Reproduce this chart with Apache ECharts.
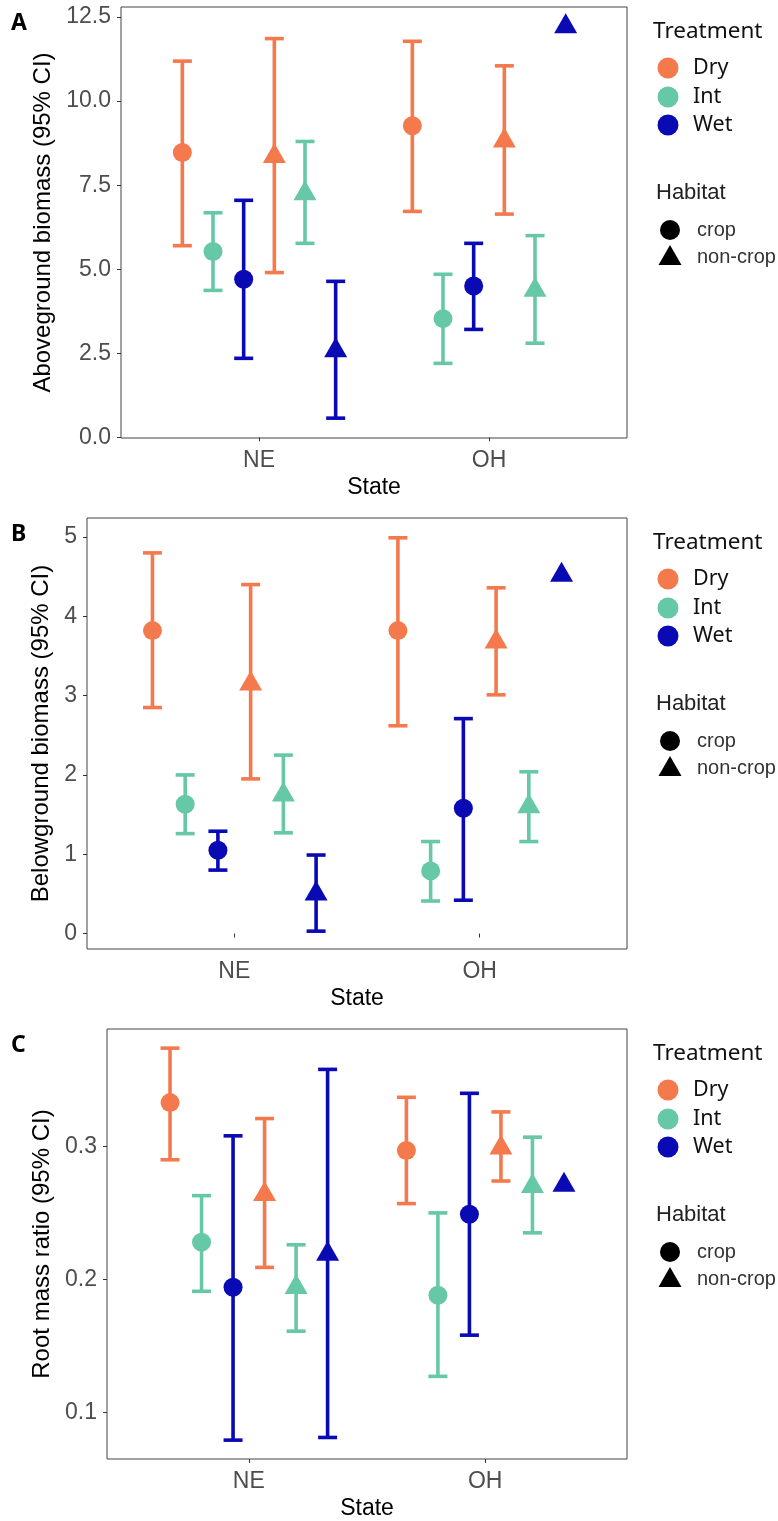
<!DOCTYPE html>
<html><head><meta charset="utf-8">
<script src="https://cdn.jsdelivr.net/npm/echarts@6/dist/echarts.min.js"></script>
<style>html,body{margin:0;padding:0;background:#fff}#c{width:778px;height:1521px}</style>
</head><body><div id="c"></div>
<script>
// ---------- data ----------
const states = ['NE', 'OH'];
const treatments = ['Dry', 'Int', 'Wet'];
const habitats = ['crop', 'non-crop'];
// order within each state: crop Dry, crop Int, crop Wet, non-crop Dry, non-crop Int, non-crop Wet
const aboveMean = [8.47, 5.53, 4.70, 8.36, 7.25, 2.58,   9.27, 3.53, 4.50, 8.82, 4.38, 12.22];
const aboveLow  = [5.70, 4.37, 2.35, 4.90, 5.77, 0.57,   6.72, 2.20, 3.21, 6.64, 2.80, null];
const aboveHigh = [11.19, 6.68, 7.05, 11.86, 8.80, 4.64, 11.78, 4.85, 5.77, 11.05, 6.00, null];
const aboveTicks = [0, 2.5, 5, 7.5, 10, 12.5];

const belowMean = [3.82, 1.63, 1.05, 3.15, 1.75, 0.50,   3.82, 0.79, 1.58, 3.68, 1.60, 4.52];
const belowLow  = [2.85, 1.26, 0.80, 1.95, 1.27, 0.03,   2.62, 0.41, 0.42, 3.01, 1.16, null];
const belowHigh = [4.80, 2.00, 1.29, 4.40, 2.25, 0.99,   4.99, 1.16, 2.71, 4.36, 2.04, null];
const belowTicks = [0, 1, 2, 3, 4, 5];

const rmrMean = [0.333, 0.228, 0.194, 0.264, 0.194, 0.219,   0.297, 0.188, 0.249, 0.299, 0.270, 0.271];
const rmrLow  = [0.290, 0.191, 0.079, 0.209, 0.161, 0.081,   0.257, 0.127, 0.158, 0.274, 0.235, null];
const rmrHigh = [0.374, 0.263, 0.308, 0.321, 0.226, 0.358,   0.337, 0.250, 0.340, 0.326, 0.307, null];
const rmrTicks = [0.1, 0.2, 0.3];

const treatmentColors = ['#F47A4E', '#66C8A7', '#0A0AB4'];

// ---------- layout ----------
const panels = [
  {label: 'A', mean: aboveMean, low: aboveLow, high: aboveHigh, ticks: aboveTicks, dec: 1,
   yName: 'Aboveground biomass (95% CI)', min: -0.02, max: 12.80, left: 121, top: 7, height: 431, nameGap: 61},
  {label: 'B', mean: belowMean, low: belowLow, high: belowHigh, ticks: belowTicks, dec: 0,
   yName: 'Belowground biomass (95% CI)', min: -0.195, max: 5.24, left: 87, top: 518, height: 431, nameGap: 24},
  {label: 'C', mean: rmrMean, low: rmrLow, high: rmrHigh, ticks: rmrTicks, dec: 1,
   yName: 'Root mass ratio (95% CI)', min: 0.0648, max: 0.3884, left: 107, top: 1029, height: 432, nameGap: 45}
];
const RIGHT = 627;
const dodge = 0.8 / 6;
const AX = '"Liberation Sans", Arial, sans-serif';
const LG = '"Noto Sans", "Open Sans", sans-serif';

const grids = [], xAxes = [], yAxes = [], series = [], graphics = [];

function xPos(stateIdx, habIdx, trtIdx) {
  const g = habIdx * 3 + trtIdx;
  return stateIdx + 1 + (g - 2.5) * dodge;
}

panels.forEach((p, i) => {
  grids.push({left: p.left, top: p.top, width: RIGHT - p.left, height: p.height,
    show: true, borderColor: '#444', borderWidth: 1, backgroundColor: 'transparent'});
  xAxes.push({type: 'value', gridIndex: i, min: 0.4, max: 2.6,
    name: 'State', nameLocation: 'middle', nameGap: 38,
    nameTextStyle: {fontFamily: AX, fontSize: 23, color: '#000'},
    axisLine: {show: false}, splitLine: {show: false},
    axisTick: {show: true, length: 4, lineStyle: {color: '#333'}, customValues: [1, 2]},
    axisLabel: {fontFamily: AX, fontSize: 23, color: '#4D4D4D', margin: 11,
      customValues: [1, 2], formatter: v => states[Math.round(v) - 1] || ''}});
  yAxes.push({type: 'value', gridIndex: i, min: p.min, max: p.max,
    name: p.yName, nameLocation: 'middle', nameGap: p.nameGap,
    nameTextStyle: {fontFamily: AX, fontSize: 24, color: '#000'},
    axisLine: {show: false}, splitLine: {show: false},
    axisTick: {show: true, length: 4, lineStyle: {color: '#333'}, customValues: p.ticks},
    axisLabel: {fontFamily: AX, fontSize: 23, color: '#4D4D4D', margin: 10,
      customValues: p.ticks, formatter: v => Number(v).toFixed(p.dec)}});

  const errData = [], crop = [], noncrop = [];
  for (let s = 0; s < 2; s++) for (let h = 0; h < 2; h++) for (let t = 0; t < 3; t++) {
    const k = s * 6 + h * 3 + t;
    const x = xPos(s, h, t);
    if (p.low[k] != null && p.high[k] != null) errData.push([x, p.low[k], p.high[k], t]);
    (h === 0 ? crop : noncrop).push([x, p.mean[k], t]);
  }
  series.push({type: 'custom', xAxisIndex: i, yAxisIndex: i, data: errData, z: 2,
    renderItem: (params, api) => {
      const x = api.value(0), t = api.value(3);
      const a = api.coord([x, api.value(1)]), b = api.coord([x, api.value(2)]);
      const hw = 9.5;
      const st = {stroke: treatmentColors[t], lineWidth: 3.6, fill: null, lineCap: 'butt'};
      return {type: 'group', children: [
        {type: 'line', shape: {x1: a[0], y1: a[1], x2: b[0], y2: b[1]}, style: st},
        {type: 'line', shape: {x1: a[0] - hw, y1: a[1], x2: a[0] + hw, y2: a[1]}, style: st},
        {type: 'line', shape: {x1: b[0] - hw, y1: b[1], x2: b[0] + hw, y2: b[1]}, style: st}
      ]};
    }});
  series.push({type: 'scatter', name: habitats[0], xAxisIndex: i, yAxisIndex: i, data: crop, z: 3,
    symbol: 'circle', symbolSize: 19,
    itemStyle: {opacity: 1, color: q => treatmentColors[q.value[2]]}});
  series.push({type: 'scatter', name: habitats[1], xAxisIndex: i, yAxisIndex: i, data: noncrop, z: 3,
    symbol: 'triangle', symbolSize: [23, 20], symbolOffset: [0, -3.3],
    itemStyle: {opacity: 1, color: q => treatmentColors[q.value[2]]}});

  // panel letter
  graphics.push({type: 'text', left: 11, top: p.top + 5,
    style: {text: p.label, font: 'bold 23px ' + LG, fill: '#000'}});

  // legends
  const T = p.top;
  graphics.push({type: 'text', x: 653, y: T + 25,
    style: {text: 'Treatment', font: '22.5px ' + LG, fill: '#111', verticalAlign: 'middle', align: 'left'}});
  [61, 90, 118].forEach((off, t) => {
    graphics.push({type: 'circle', shape: {cx: 668, cy: T + off, r: 10.5}, style: {fill: treatmentColors[t]}});
    graphics.push({type: 'text', x: 693, y: T + off,
      style: {text: treatments[t], font: '21.5px ' + LG, fill: '#111', verticalAlign: 'middle', align: 'left'}});
  });
  graphics.push({type: 'text', x: 656, y: T + 186,
    style: {text: 'Habitat', font: '22px ' + AX, fill: '#222', verticalAlign: 'middle', align: 'left'}});
  graphics.push({type: 'circle', shape: {cx: 670, cy: T + 223, r: 10}, style: {fill: '#000'}});
  graphics.push({type: 'text', x: 697, y: T + 223,
    style: {text: habitats[0], font: '20px ' + AX, fill: '#333', verticalAlign: 'middle', align: 'left'}});
  graphics.push({type: 'polygon', shape: {points: [[670, T + 238], [681.5, T + 258], [658.5, T + 258]]}, style: {fill: '#000'}});
  graphics.push({type: 'text', x: 697, y: T + 250,
    style: {text: habitats[1], font: '20px ' + AX, fill: '#333', verticalAlign: 'middle', align: 'left'}});
});

const chart = echarts.init(document.getElementById('c'));
chart.setOption({
  animation: false,
  backgroundColor: '#fff',
  grid: grids, xAxis: xAxes, yAxis: yAxes, series: series, graphic: graphics
});
</script></body></html>
